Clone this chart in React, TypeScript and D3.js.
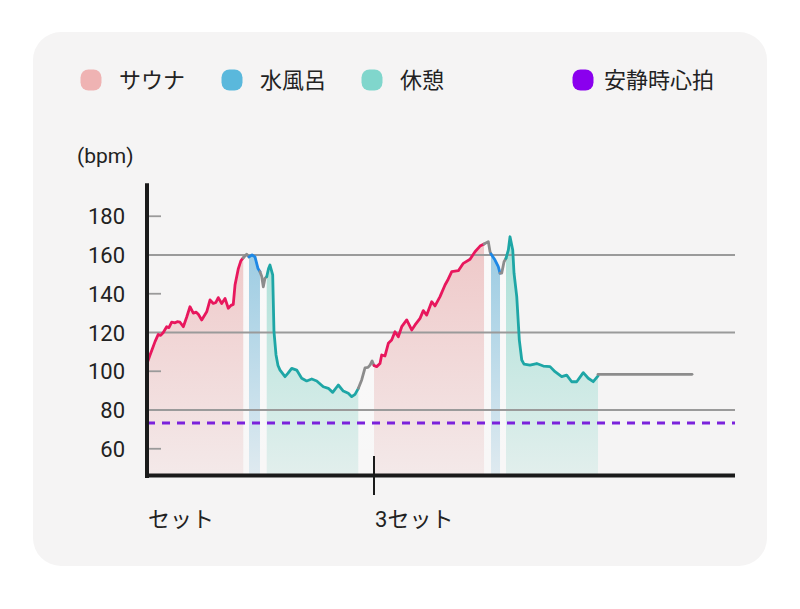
import React from "react";
import * as d3 from "d3";

// ---- data (time in minutes, heart rate in bpm) ----
const sauna1: [number, number][] = [
  [0, 104], [0.4, 108.4], [0.75, 112], [1.06, 115.3], [1.49, 119], [1.8, 118.5], [2.15, 120],
  [2.6, 123], [2.9, 122.5], [3.26, 125.3], [3.7, 125], [4.0, 125.6], [4.36, 125.3], [4.8, 123],
  [5.25, 128], [5.68, 133.3], [6.12, 130], [6.5, 130.5], [6.78, 129.4], [7.0, 128], [7.23, 126.5],
  [7.89, 130.7], [8.33, 136.8], [8.76, 135], [9.1, 135.5], [9.42, 138], [9.87, 135], [10.31, 137.6],
  [10.74, 132.5], [11.1, 134], [11.4, 134.5], [11.63, 144.5], [12.07, 153], [12.4, 157], [12.73, 158.6],
];
const trans1: [number, number][] = [[12.73, 158.6], [13.17, 160.4], [13.48, 159]];
const cold1: [number, number][] = [[13.48, 159], [13.88, 160], [14.27, 159], [14.67, 153], [14.93, 151.4]];
const trans2: [number, number][] = [[14.93, 151.4], [15.15, 149], [15.37, 143.6], [15.59, 148], [15.82, 148.8]];
const rest1: [number, number][] = [
  [15.82, 148.8], [16.06, 153], [16.25, 154.8], [16.61, 149.7], [16.78, 120.4], [17.05, 108.4],
  [17.31, 103], [17.58, 100.6], [18.24, 97.2], [18.64, 99], [19.12, 101.5], [19.78, 100.6],
  [20.44, 96.4], [21.1, 95], [21.77, 96], [22.43, 95], [23.3, 92], [23.96, 91.2], [24.54, 89.1],
  [25.28, 92.9], [25.94, 89.8], [26.6, 88.6], [27.05, 86.9], [27.49, 88.1], [27.93, 91.2],
];
const trans3: [number, number][] = [
  [27.93, 91.2], [28.37, 95.5], [28.81, 101.8], [29.2, 102], [29.47, 103.2], [29.75, 105.3], [30.0, 103],
];
const sauna2: [number, number][] = [
  [30.0, 103], [30.35, 102.4], [30.79, 104], [31.01, 108.4], [31.45, 107.9], [31.89, 114.4],
  [32.33, 116.1], [32.77, 120.4], [33.21, 117.8], [33.66, 123], [34.32, 126.5], [34.98, 121.3],
  [35.42, 123.9], [36.08, 127.3], [36.51, 131.3], [36.96, 129], [37.62, 135.9], [38.06, 133.7],
  [38.72, 138.5], [39.38, 144.5], [39.8, 147.5], [40.27, 151.4], [41.14, 151.9], [41.8, 155.7],
  [42.69, 157.8], [43.34, 161.7], [44.01, 164.6], [44.54, 165.7],
];
const trans4: [number, number][] = [[44.54, 165.7], [45.1, 166.9], [45.33, 161.7], [45.46, 160.5]];
const cold2: [number, number][] = [[45.46, 160.5], [45.99, 157.4], [46.42, 154], [46.65, 150.6]];
const trans5: [number, number][] = [[46.65, 150.6], [46.87, 150.6], [47.18, 156.5], [47.44, 158.3]];
const rest2: [number, number][] = [
  [47.44, 158.3], [47.75, 162.6], [47.97, 169.4], [48.33, 162.6], [48.5, 150.6], [48.86, 138.5],
  [49.2, 116.1], [49.52, 105.8], [49.82, 103.7], [50.61, 103.2], [51.5, 104], [52.37, 102.7],
  [53.26, 102.4], [53.92, 99.8], [54.8, 97.2], [55.46, 98], [56.12, 94.6], [56.78, 94.6],
  [57.65, 99.3], [58.31, 96.4], [58.97, 94.6], [59.6, 97.6],
];
const trans6: [number, number][] = [[59.6, 98.4], [72.02, 98.4]];

const segments: { kind: string; pts: [number, number][]; filled: boolean }[] = [
  { kind: "sauna", pts: sauna1, filled: true },
  { kind: "trans", pts: trans1, filled: true },
  { kind: "cold", pts: cold1, filled: true },
  { kind: "trans", pts: trans2, filled: true },
  { kind: "rest", pts: rest1, filled: true },
  { kind: "trans", pts: trans3, filled: true },
  { kind: "sauna", pts: sauna2, filled: true },
  { kind: "trans", pts: trans4, filled: true },
  { kind: "cold", pts: cold2, filled: true },
  { kind: "trans", pts: trans5, filled: true },
  { kind: "rest", pts: rest2, filled: true },
  { kind: "trans", pts: trans6, filled: false },
];

const restingHR = 73.3;
const yTicks = [60, 80, 100, 120, 140, 160, 180];
const yGridValues = [80, 120, 160];
const xTickValues = [0, 30];
const xTickLabels = ["セット", "3セット"];
const legendLabels = ["サウナ", "水風呂", "休憩", "安静時心拍"];
const legendColors = ["#efb3b3", "#5ab8dc", "#80d6cc", "#8a00ee"];

const lineColor: Record<string, string> = {
  sauna: "#e8175d",
  cold: "#1e88e5",
  rest: "#1ea6a6",
  trans: "#8c8c8c",
};
const fillColor: Record<string, string> = {
  sauna: "#e89a9a",
  cold: "#5aaed6",
  rest: "#6fd0c0",
  trans: "#ffffff",
};
const fillOpacity: Record<string, [number, number]> = {
  sauna: [0.58, 0.12],
  cold: [0.7, 0.14],
  rest: [0.65, 0.14],
  trans: [0.5, 0.3],
};

export default function App() {
  const W = 800;
  const H = 609;
  const left = 147;
  const right = 735;
  const top = 183.3;
  const bottom = 475.9;

  const x = d3.scaleLinear().domain([0, 77.7]).range([left, right]);
  const y = d3.scaleLinear().domain([46, 197]).range([bottom, top]);

  const line = d3
    .line<[number, number]>()
    .x((d) => x(d[0]))
    .y((d) => y(d[1]));
  const area = d3
    .area<[number, number]>()
    .x((d) => x(d[0]))
    .y0(bottom)
    .y1((d) => y(d[1]));

  const font = "Roboto, 'Noto Sans CJK JP', sans-serif";
  const legendX = [91, 232, 372, 583];

  return (
    <svg
      width={W}
      height={H}
      style={{ position: "absolute", left: 0, top: 0, background: "#ffffff" }}
      fontFamily={font}
    >
      <defs>
        {Object.keys(fillColor).map((k) => (
          <linearGradient
            key={k}
            id={`g-${k}`}
            gradientUnits="userSpaceOnUse"
            x1={0}
            x2={0}
            y1={top}
            y2={bottom}
          >
            <stop offset="0%" stopColor={fillColor[k]} stopOpacity={fillOpacity[k][0]} />
            <stop offset="100%" stopColor={fillColor[k]} stopOpacity={fillOpacity[k][1]} />
          </linearGradient>
        ))}
      </defs>
      <rect x={33} y={32} width={734} height={534} rx={28} fill="#f5f4f4" />

      {/* legend */}
      {legendLabels.map((lab, i) => (
        <g key={lab}>
          <rect x={legendX[i] - 10.5} y={69.5} width={21} height={21} rx={8} fill={legendColors[i]} />
          <text x={legendX[i] + (i === 3 ? 21 : 28)} y={88} fontSize={22} fill="#222">
            {lab}
          </text>
        </g>
      ))}

      {/* unit */}
      <text x={77} y={163} fontSize={21} fill="#222">
        (bpm)
      </text>

      {/* fills */}
      {segments
        .filter((s) => s.filled)
        .map((s, i) => (
          <path key={`a${i}`} d={area(s.pts) || ""} fill={`url(#g-${s.kind})`} />
        ))}

      {/* grid + ticks */}
      {yTicks.map((v) => (
        <g key={v}>
          <line
            x1={left}
            x2={yGridValues.includes(v) ? right : left + 14}
            y1={y(v)}
            y2={y(v)}
            stroke="#9a9a9a"
            strokeWidth={1.8}
          />
          <text x={125} y={y(v) + 8} fontSize={22} textAnchor="end" fill="#222">
            {v}
          </text>
        </g>
      ))}

      {/* resting heart rate */}
      <line
        x1={left}
        x2={right}
        y1={y(restingHR)}
        y2={y(restingHR)}
        stroke="#7b22dc"
        strokeWidth={2.8}
        strokeDasharray="8 7"
      />

      {/* lines */}
      {segments.map((s, i) => (
        <path
          key={`l${i}`}
          d={line(s.pts) || ""}
          fill="none"
          stroke={lineColor[s.kind]}
          strokeWidth={2.8}
          strokeLinejoin="round"
          strokeLinecap="round"
        />
      ))}

      {/* axes */}
      <line x1={left} x2={left} y1={top} y2={bottom + 2} stroke="#1a1a1a" strokeWidth={4} />
      <line x1={left - 2} x2={right} y1={bottom - 0.5} y2={bottom - 0.5} stroke="#1a1a1a" strokeWidth={4} />
      {xTickValues.map((t, i) => (
        <g key={t}>
          {i > 0 && (
            <line x1={x(t)} x2={x(t)} y1={456} y2={495} stroke="#1a1a1a" strokeWidth={2} />
          )}
          <text x={x(t) + 1} y={527} fontSize={22} fill="#222">
            {xTickLabels[i]}
          </text>
        </g>
      ))}
    </svg>
  );
}
